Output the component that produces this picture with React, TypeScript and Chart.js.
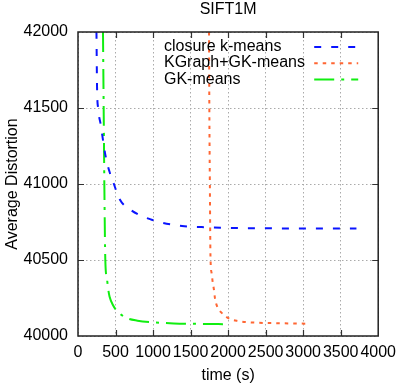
import React, { useEffect, useRef } from 'react';
import { Chart, registerables } from 'chart.js';

Chart.register(...registerables);

const chartTitle = 'SIFT1M';
const xAxisLabel = 'time (s)';
const yAxisLabel = 'Average Distortion';

const xMin = 0;
const xMax = 4000;
const xStep = 500;
const yMin = 40000;
const yMax = 42000;
const yStep = 500;

const seriesLabels = ['closure k-means', 'KGraph+GK-means', 'GK-means'];

const closureTime = [246, 254, 268, 303, 364, 420, 478, 553, 700, 991, 1386, 1737, 2200, 2700, 3200, 3710];
const closureDist = [42000, 41630, 41500, 41390, 41193, 41080, 41000, 40901, 40830, 40763, 40724, 40715, 40710, 40708, 40708, 40708];

const kgraphTime = [1746, 1750, 1757, 1765, 1781, 1794, 1812, 1825, 1855, 1921, 2009, 2123, 2351, 2600, 2800, 3031];
const kgraphDist = [42000, 41500, 41000, 40526, 40412, 40357, 40303, 40248, 40193, 40149, 40116, 40099, 40088, 40085, 40083, 40081];

const gkTime = [333, 342, 351, 364, 385, 405, 421, 465, 530, 640, 793, 1013, 1276, 1714, 1950];
const gkDist = [42000, 41500, 41000, 40500, 40380, 40300, 40259, 40204, 40160, 40120, 40101, 40090, 40083, 40079, 40078];

const seriesColors = ['#0a14ff', '#ff6633', '#11ee11'];
const seriesDashes = [[7, 10], [3.5, 5], [20, 7, 3, 7]];

const FONT = '"Liberation Sans", Arial, sans-serif';
const FS = 16;

const toPoints = (xs: number[], ys: number[]) => xs.map((x, i) => ({ x, y: ys[i] }));

const framePlugin = {
  id: 'gpFrame',
  afterDatasetsDraw(chart: any) {
    const { ctx, chartArea } = chart;
    const { left, right, top, bottom } = chartArea;
    ctx.save();
    const xs = chart.scales.x;
    const ys = chart.scales.y;
    const tl = 6;
    ctx.strokeStyle = '#333';
    ctx.lineWidth = 1.2;
    ctx.beginPath();
    xs.ticks.forEach((t: any) => {
      const px = Math.round(xs.getPixelForValue(t.value)) + 0.5;
      if (px <= left + 1 || px >= right - 1) return;
      ctx.moveTo(px, bottom);
      ctx.lineTo(px, bottom - tl);
      ctx.moveTo(px, top);
      ctx.lineTo(px, top + tl);
    });
    ys.ticks.forEach((t: any) => {
      const py = Math.round(ys.getPixelForValue(t.value)) + 0.5;
      if (py <= top + 1 || py >= bottom - 1) return;
      ctx.moveTo(left, py);
      ctx.lineTo(left + tl, py);
      ctx.moveTo(right, py);
      ctx.lineTo(right - tl, py);
    });
    ctx.stroke();
    ctx.strokeStyle = '#222';
    ctx.lineWidth = 1.5;
    ctx.strokeRect(left, top, right - left, bottom - top);

    // legend (gnuplot style, inside the plot)
    ctx.font = `${FS}px ${FONT}`;
    ctx.fillStyle = '#000';
    ctx.textBaseline = 'middle';
    ctx.textAlign = 'left';
    chart.data.datasets.forEach((ds: any, i: number) => {
      const y = top + 14.5 + i * 16.3;
      ctx.fillText(ds.label, left + 86, y);
      ctx.save();
      ctx.strokeStyle = ds.borderColor;
      ctx.lineWidth = ds.borderWidth;
      ctx.setLineDash(ds.borderDash);
      ctx.beginPath();
      ctx.moveTo(right - 64, y + 0.5);
      ctx.lineTo(right - 20, y + 0.5);
      ctx.stroke();
      ctx.restore();
    });
    ctx.restore();
  },
};

export default function App() {
  const canvasRef = useRef<HTMLCanvasElement | null>(null);

  useEffect(() => {
    const canvas = canvasRef.current;
    if (!canvas) return;
    const data = [
      toPoints(closureTime, closureDist),
      toPoints(kgraphTime, kgraphDist),
      toPoints(gkTime, gkDist),
    ];
    const chart = new Chart(canvas, {
      type: 'line',
      data: {
        datasets: data.map((d, i) => ({
          label: seriesLabels[i],
          data: d,
          borderColor: seriesColors[i],
          backgroundColor: seriesColors[i],
          borderWidth: 2,
          borderDash: seriesDashes[i],
          pointRadius: 0,
          fill: false,
          cubicInterpolationMode: 'monotone' as const,
        })),
      },
      options: {
        animation: false,
        responsive: false,
        devicePixelRatio: 1,
        layout: { padding: { top: 0, right: 21, bottom: 0, left: 0 } },
        plugins: {
          legend: { display: false },
          tooltip: { enabled: false },
          title: {
            display: true,
            fullSize: false,
            text: chartTitle,
            color: '#000',
            font: { family: FONT, size: FS, weight: 'normal', lineHeight: 1.2 },
            padding: { top: 0, bottom: 12.8 },
          },
        },
        scales: {
          x: {
            type: 'linear',
            min: xMin,
            max: xMax,
            afterFit: (s: any) => { s.height = 51; },
            ticks: {
              stepSize: xStep,
              color: '#000',
              padding: 7,
              maxRotation: 0,
              autoSkip: false,
              font: { family: FONT, size: FS },
              callback: (v: any) => String(v),
            },
            grid: { color: '#aaa', lineWidth: 1, drawTicks: false },
            border: { display: false, dash: [1.5, 2.5] },
            title: {
              display: true,
              text: xAxisLabel,
              color: '#000',
              font: { family: FONT, size: FS, lineHeight: 1.2 },
              padding: { top: 2.4, bottom: 2 },
            },
          },
          y: {
            type: 'linear',
            min: yMin,
            max: yMax,
            afterFit: (s: any) => { s.width = 78; },
            ticks: {
              stepSize: yStep,
              color: '#000',
              padding: 10,
              autoSkip: false,
              font: { family: FONT, size: FS },
              callback: (v: any) => String(v),
            },
            grid: { color: '#aaa', lineWidth: 1, drawTicks: false },
            border: { display: false, dash: [1.5, 2.5] },
            title: {
              display: true,
              text: yAxisLabel,
              color: '#000',
              font: { family: FONT, size: FS, lineHeight: 1.2 },
              padding: { top: 3.4, bottom: 3 },
            },
          },
        },
      },
      plugins: [framePlugin],
    });
    return () => chart.destroy();
  }, []);

  return (
    <div style={{ position: 'absolute', left: 0, top: 0, width: 403, height: 387, background: '#fff' }}>
      <canvas ref={canvasRef} width={403} height={387} style={{ width: 403, height: 387, display: 'block' }} />
    </div>
  );
}
